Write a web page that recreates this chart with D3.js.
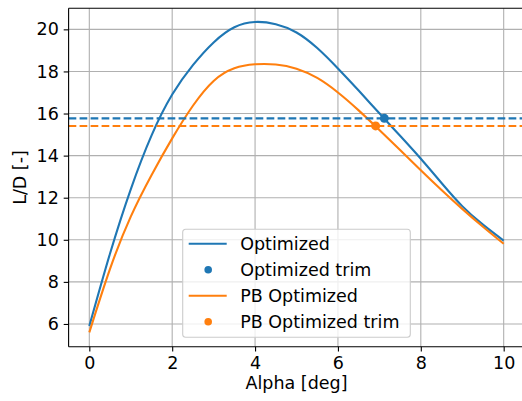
<!DOCTYPE html>
<html>
<head>
<meta charset="utf-8">
<script src="https://cdn.jsdelivr.net/npm/d3@7"></script>
<style>
    body { margin: 0; background: #fff; }
    svg { display: block; font-family: "DejaVu Sans", sans-serif; }
</style>
</head>
<body>
<div class="chart"></div>
<script>
// angle of attack samples (deg)
var alpha = [0, 0.5, 1, 1.5, 2, 2.5, 3, 3.5, 4, 4.5, 5, 5.5, 6, 6.5, 7, 7.5, 8, 8.5, 9, 9.5, 10];
// L/D
var optimizedLD = [5.9, 9.35, 12.4, 14.95, 16.9, 18.3, 19.38, 20.1, 20.35, 20.24, 19.85, 19.11, 18.14, 17.09, 16.01, 14.94, 13.85, 12.7, 11.6, 10.72, 9.96];
var pbOptimizedLD = [5.6, 8.62, 11.1, 13.07, 14.82, 16.37, 17.55, 18.15, 18.34, 18.33, 18.13, 17.69, 17.0, 16.15, 15.22, 14.27, 13.31, 12.37, 11.47, 10.62, 9.81];
// trim points
var optimizedTrim = [7.12, 15.77];
var pbOptimizedTrim = [6.91, 15.41];

var xTicks = [0, 2, 4, 6, 8, 10];
var yTicks = [6, 8, 10, 12, 14, 16, 18, 20];
var legendLabels = ["Optimized", "Optimized trim", "PB Optimized", "PB Optimized trim"];

var blue = "#1f77b4";
var orange = "#ff7f0e";

var w = 522, h = 401;
// plot area (right edge sits just past the picture)
var pLeft = 68.6, pRight = 524.4, pTop = 8.3, pBottom = 346.7;
var fontSize = 17.5;

var svg = d3.select(".chart").append("svg")
    .attr("width", w)
    .attr("height", h);

var x = d3.scaleLinear().domain([-0.5, 10.5]).range([pLeft, pRight]);
var y = d3.scaleLinear().domain([4.92, 21.0]).range([pBottom, pTop]);

// grid lines first so they sit behind everything
var grid = svg.append("g").attr("class", "grid");
grid.selectAll(".gx")
    .data(xTicks)
    .enter()
    .append("line")
    .attr("x1", function (d) { return x(d); })
    .attr("x2", function (d) { return x(d); })
    .attr("y1", pTop)
    .attr("y2", pBottom)
    .attr("stroke", "#b0b0b0")
    .attr("stroke-width", 1.1);
grid.selectAll(".gy")
    .data(yTicks)
    .enter()
    .append("line")
    .attr("x1", pLeft)
    .attr("x2", pRight)
    .attr("y1", function (d) { return y(d); })
    .attr("y2", function (d) { return y(d); })
    .attr("stroke", "#b0b0b0")
    .attr("stroke-width", 1.1);

// axes
var xAxis = d3.axisBottom(x).tickValues(xTicks).tickSize(4.9).tickPadding(4.9).tickFormat(d3.format("d"));
var yAxis = d3.axisLeft(y).tickValues(yTicks).tickSize(4.9).tickPadding(4.9).tickFormat(d3.format("d"));

var gx = svg.append("g").attr("transform", "translate(0," + pBottom + ")").call(xAxis);
var gy = svg.append("g").attr("transform", "translate(" + pLeft + ",0)").call(yAxis);

[gx, gy].forEach(function (g) {
    g.select(".domain").remove();
    g.selectAll(".tick line").attr("stroke", "#000").attr("stroke-width", 1.1);
    g.selectAll(".tick text")
        .attr("fill", "#000")
        .style("font-size", fontSize + "px")
        .style("font-family", "DejaVu Sans");
});

// curves
var line = d3.line()
    .x(function (d) { return x(d[0]); })
    .y(function (d) { return y(d[1]); })
    .curve(d3.curveNatural);

function curve(values, color) {
    svg.append("path")
        .datum(d3.zip(alpha, values))
        .attr("d", line)
        .attr("fill", "none")
        .attr("stroke", color)
        .attr("stroke-width", 2.1);
}
curve(optimizedLD, blue);
curve(pbOptimizedLD, orange);

// horizontal dashed trim levels
function trimLevel(pt, color) {
    svg.append("line")
        .attr("x1", pLeft)
        .attr("x2", pRight)
        .attr("y1", y(pt[1]))
        .attr("y2", y(pt[1]))
        .attr("stroke", color)
        .attr("stroke-width", 2.1)
        .attr("stroke-dasharray", "7.7,3.3");
}
trimLevel(optimizedTrim, blue);
trimLevel(pbOptimizedTrim, orange);

svg.selectAll(".trim")
    .data([[optimizedTrim, blue], [pbOptimizedTrim, orange]])
    .enter()
    .append("circle")
    .attr("cx", function (d) { return x(d[0][0]); })
    .attr("cy", function (d) { return y(d[0][1]); })
    .attr("r", 4.5)
    .attr("fill", function (d) { return d[1]; });

// spines (right one falls outside the picture)
var spine = svg.append("g").attr("stroke", "#000").attr("stroke-width", 1.1);
spine.append("line").attr("x1", pLeft).attr("x2", pLeft).attr("y1", pTop).attr("y2", pBottom);
spine.append("line").attr("x1", pLeft).attr("x2", pRight).attr("y1", pTop).attr("y2", pTop);
spine.append("line").attr("x1", pLeft).attr("x2", pRight).attr("y1", pBottom).attr("y2", pBottom);
spine.append("line").attr("x1", pRight).attr("x2", pRight).attr("y1", pTop).attr("y2", pBottom);

// axis labels
svg.append("text")
    .attr("x", (pLeft + pRight) / 2)
    .attr("y", 389)
    .attr("text-anchor", "middle")
    .style("font-size", fontSize + "px")
    .text("Alpha [deg]");
svg.append("text")
    .attr("transform", "translate(26," + (pTop + pBottom) / 2 + ") rotate(-90)")
    .attr("text-anchor", "middle")
    .style("font-size", fontSize + "px")
    .text("L/D [-]");

// legend
var legend = svg.append("g").attr("transform", "translate(182.7,229.3)");
legend.append("rect")
    .attr("width", 227.6)
    .attr("height", 108)
    .attr("rx", 3)
    .attr("fill", "#fff")
    .attr("fill-opacity", 0.8)
    .attr("stroke", "#cccccc")
    .attr("stroke-width", 1.1);

var legendItems = [
    { label: legendLabels[0], color: blue, kind: "line" },
    { label: legendLabels[1], color: blue, kind: "dot" },
    { label: legendLabels[2], color: orange, kind: "line" },
    { label: legendLabels[3], color: orange, kind: "dot" }
];

var rows = legend.selectAll(".row")
    .data(legendItems)
    .enter()
    .append("g")
    .attr("transform", function (d, i) { return "translate(0," + (14.5 + i * 26) + ")"; });

rows.filter(function (d) { return d.kind === "line"; })
    .append("line")
    .attr("x1", 6)
    .attr("x2", 44)
    .attr("stroke", function (d) { return d.color; })
    .attr("stroke-width", 2.1);
rows.filter(function (d) { return d.kind === "dot"; })
    .append("circle")
    .attr("cx", 25.5)
    .attr("r", 3.8)
    .attr("fill", function (d) { return d.color; });
rows.append("text")
    .attr("x", 57.5)
    .attr("dy", "0.36em")
    .style("font-size", fontSize + "px")
    .text(function (d) { return d.label; });
</script>
</body>
</html>
